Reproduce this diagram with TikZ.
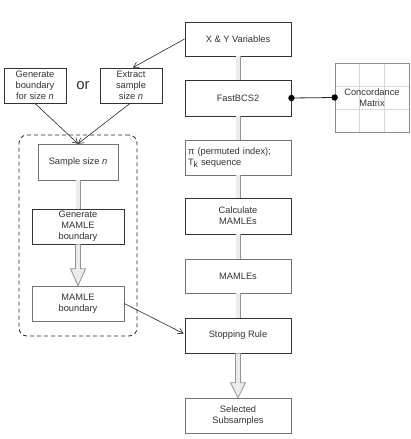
\documentclass[tikz,border=0pt]{standalone}
\usepackage{fontspec}
\setmainfont{Liberation Sans}
\usetikzlibrary{arrows.meta,shadows,calc}
\definecolor{txt}{HTML}{333333}
\tikzset{
  bx/.style={draw=black!80, line width=0.9pt, fill=white, align=center, text=txt,
    font=\fontsize{9.3}{11}\selectfont, inner sep=1pt,
    drop shadow={shadow xshift=0.6pt, shadow yshift=-1.2pt, opacity=0.35}},
  softbx/.style={bx, draw=black!55, line width=0.5pt},
  thin arrow/.style={draw=black!85, line width=0.6pt, -{Straight Barb[length=5pt,width=6pt]}},
  dbl/.style={draw=gray!85, line width=5pt},
  dblin/.style={draw=gray!15, line width=3.2pt},
  hollow/.style={draw=gray!85, fill=gray!15, line width=0.8pt, line join=miter},
}
\begin{document}
\begin{tikzpicture}[x=1pt,y=-1pt]
\useasboundingbox (0,0) rectangle (411,439);
% central column
\node[bx, minimum width=106pt, minimum height=34pt] (xy) at (238,39) {X \& Y Variables};
\node[bx, minimum width=106pt, minimum height=36pt] (fast) at (238,98) {FastBCS2};
\node[softbx, minimum width=106pt, minimum height=35pt, align=left, text width=100pt] (pi) at (238,157.5) {π (permuted index);\\T\raisebox{-2.5pt}{\fontsize{8.5}{8.5}\selectfont k} sequence};
\node[bx, minimum width=106pt, minimum height=36pt] (calc) at (238,216) {Calculate\\MAMLEs};
\node[softbx, minimum width=106pt, minimum height=34pt] (mamles) at (238,276) {MAMLEs};
\node[bx, minimum width=106pt, minimum height=35pt] (stop) at (238,335.5) {Stopping Rule};
\node[softbx, minimum width=106pt, minimum height=35pt] (sel) at (238,415.5) {Selected\\Subsamples};
% concordance matrix
\node[draw=black!45, line width=0.6pt, minimum width=74pt, minimum height=69pt, inner sep=0pt] (conc) at (372,97.5) {};
\draw[gray!30, line width=0.6pt]
  ($(conc.north west)!1/3!(conc.north east)$) -- ($(conc.south west)!1/3!(conc.south east)$)
  ($(conc.north west)!2/3!(conc.north east)$) -- ($(conc.south west)!2/3!(conc.south east)$)
  ($(conc.north west)!1/3!(conc.south west)$) -- ($(conc.north east)!1/3!(conc.south east)$)
  ($(conc.north west)!2/3!(conc.south west)$) -- ($(conc.north east)!2/3!(conc.south east)$);
\node[draw=black!45, line width=0.6pt, minimum width=74pt, minimum height=69pt, inner sep=0pt, text=txt, font=\fontsize{9.3}{11}\selectfont, align=center] (conclabel) at (conc.center) {Concordance\\Matrix};
% left side
\node[bx, minimum width=62pt, minimum height=35pt] (gen) at (35,85.5) {Generate\\boundary\\for size \textit{n}};
\node[bx, minimum width=62pt, minimum height=35pt] (ext) at (131,85.5) {Extract\\sample\\size \textit{n}};
\node[text=txt, font=\fontsize{15}{15}\selectfont] (or) at (83,86) {or};
\node[softbx, minimum width=80pt, minimum height=36pt] (samp) at (78,162) {Sample size \textit{n}};
\node[bx, minimum width=92pt, minimum height=35pt] (genM) at (78,226.5) {Generate\\MAMLE\\boundary};
\node[softbx, minimum width=92pt, minimum height=35pt] (mb) at (78,303.5) {MAMLE\\boundary};
\node[draw=black!85, dashed, dash pattern=on 4pt off 3pt, line width=0.8pt, rounded corners=8pt, minimum width=118pt, minimum height=201pt] (group) at (78,235.5) {};
% double-line connectors
\foreach \a/\b in {xy/fast, fast/pi, pi/calc, calc/mamles, mamles/stop, samp/genM} {
  \draw[dbl] (\a.south) -- (\b.north);
  \draw[dblin] (\a.south) -- (\b.north);
}
% hollow arrows
\draw[hollow] ($(genM.south)+(-2.5,0)$) -- ($(mb.north)+(-2.5,-17)$) -- ($(mb.north)+(-7.5,-17)$) -- (mb.north) -- ($(mb.north)+(7.5,-17)$) -- ($(mb.north)+(2.5,-17)$) -- ($(genM.south)+(2.5,0)$);
\draw[hollow] ($(stop.south)+(-2.5,0)$) -- ($(sel.north)+(-2.5,-15)$) -- ($(sel.north)+(-7.5,-15)$) -- (sel.north) -- ($(sel.north)+(7.5,-15)$) -- ($(sel.north)+(2.5,-15)$) -- ($(stop.south)+(2.5,0)$);
% thin arrows
\draw[thin arrow] (xy.west) -- ($(ext.north)+(2,0)$);
\draw[thin arrow] (gen.south) -- (samp.north);
\draw[thin arrow] ($(ext.south)+(-1,0)$) -- (samp.north);
\draw[thin arrow] (mb.east) -- ($(stop.west)+(-1,-2)$);
% ball connector
\draw[black!85, line width=0.8pt] (fast.east) -- (conc.west);
\fill[black] (fast.east) circle (3.2pt);
\fill[black] (conc.west) circle (3.2pt);
\end{tikzpicture}
\end{document}
